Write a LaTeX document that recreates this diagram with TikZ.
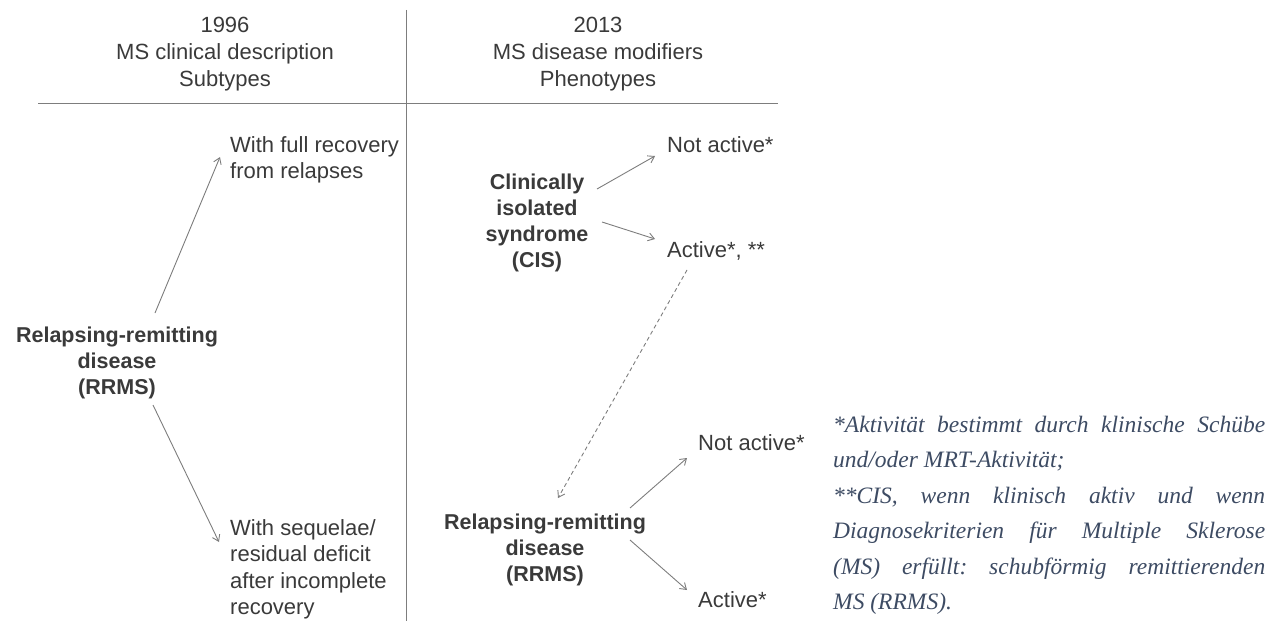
\documentclass[tikz,border=0pt]{standalone}
\usepackage{fontspec}
\setmainfont{Liberation Serif}
\setsansfont{Liberation Sans}
\usetikzlibrary{calc,arrows.meta}

\definecolor{txtgray}{RGB}{58,58,58}
\definecolor{linegray}{RGB}{125,125,125}
\definecolor{notecol}{RGB}{61,75,99}

\begin{document}
\frenchspacing
\begin{tikzpicture}[x=1pt,y=-1pt,
  lbl/.style={inner sep=0pt, text=txtgray, align=left, font=\sffamily\fontsize{22}{26.5}\selectfont},
  head/.style={lbl, align=center, font=\sffamily\fontsize{22}{27}\selectfont},
  bold/.style={lbl, align=center, font=\sffamily\bfseries\fontsize{21.5}{26}\selectfont},
  note/.style={inner sep=0pt, text=notecol, text width=432pt, align=justify, font=\rmfamily\itshape\fontsize{23.5}{35.4}\selectfont},
  arr/.style={draw=linegray, line width=0.9pt, -{Straight Barb[length=6pt,width=8pt]}},
  rule/.style={draw=linegray, line width=0.9pt}]
\useasboundingbox (0,0) rectangle (1271,623);

%%% table frame
\draw[rule] (38,103) to (778,103);
\draw[rule] (406,10) to (406,621);

%%% 1996 subtypes
\node[head, anchor=north] (hdrL) at (225,17) {1996\\MS clinical description\\Subtypes};
\node[bold, anchor=north] (rrmsL) at (117,327) {Relapsing-remitting\\disease\\(RRMS)};
\node[lbl, anchor=north west] (fullrec) at (230,136) {With full recovery\\from relapses};
\node[lbl, anchor=north west] (sequel) at (230,519) {With sequelae/\\residual deficit\\after incomplete\\recovery};

\draw[arr] ($(rrmsL.north)+(38,-14)$) to ($(fullrec.north west)+(-10,21)$);
\draw[arr] ($(rrmsL.north)+(36,78)$) to ($(sequel.north west)+(-11,23)$);

%%% 2013 phenotypes
\node[head, anchor=north] (hdrR) at (598,17) {2013\\MS disease modifiers\\Phenotypes};
\node[bold, anchor=north] (cis) at (537,174) {Clinically\\isolated\\syndrome\\(CIS)};
\node[lbl, anchor=north west] (notactU) at (667,136) {Not active*};
\node[lbl, anchor=north west] (actU) at (667,241) {Active*, **};
\node[bold, anchor=north] (rrmsR) at (545,514) {Relapsing-remitting\\disease\\(RRMS)};
\node[lbl, anchor=north west] (notactL) at (698,434) {Not active*};
\node[lbl, anchor=north west] (actL) at (698,591) {Active*};

\draw[arr] ($(cis.north)+(60,15)$) to ($(notactU.north west)+(-12,20)$);
\draw[arr] ($(cis.north)+(65,48)$) to ($(actU.north west)+(-12,-2)$);
\draw[arr, dash pattern=on 4pt off 3pt] ($(actU.north west)+(20,29)$) to ($(rrmsR.north)+(13,-16)$);
\draw[arr] ($(rrmsR.north)+(85,-6)$) to ($(notactL.north west)+(-11,24)$);
\draw[arr] ($(rrmsR.north)+(85,26)$) to ($(actL.north west)+(-11,-1)$);

%%% footnote
\node[note, anchor=north west] (notes) at (833,416) {*Aktivität bestimmt durch klinische Schübe\linebreak und/oder MRT-Aktivität;\\{**}CIS, wenn klinisch aktiv und wenn\linebreak Diagnosekriterien für Multiple Sklerose\linebreak (MS) erfüllt: schubförmig remittierenden\linebreak MS (RRMS).};
\end{tikzpicture}
\end{document}
